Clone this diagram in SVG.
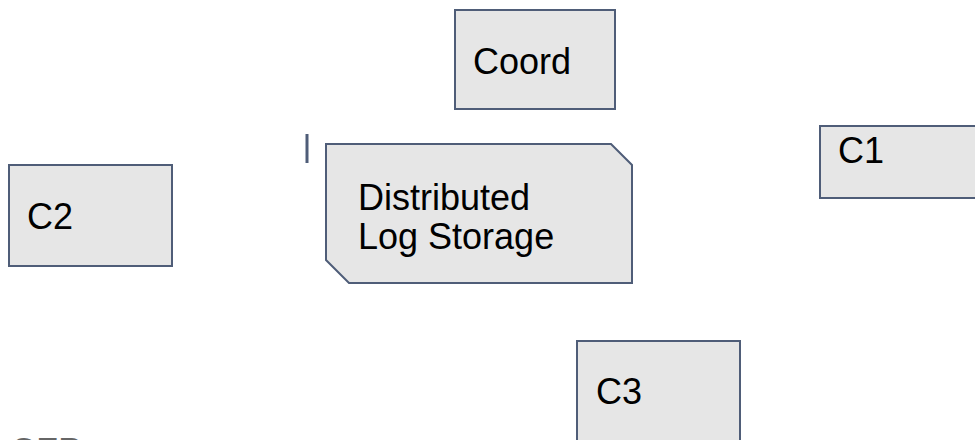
<svg xmlns="http://www.w3.org/2000/svg" width="975" height="440" viewBox="0 0 975 440">
<style>
.box{fill:#e6e6e6;stroke:#4f5d78;stroke-width:2}
.lbl{font-family:"Liberation Sans",Arial,sans-serif;font-size:36px;fill:#000}
</style>
<rect width="975" height="440" fill="#fff"/>
<g id="coord"><rect class="box" x="455" y="10" width="160" height="99"/><text class="lbl" x="473" y="74">Coord</text></g>
<g id="storage"><polygon class="box" points="326,144 611,144 632,165 632,283 349,283 326,260"/><text class="lbl" x="358" y="210">Distributed</text><text class="lbl" x="358" y="249">Log Storage</text></g>
<g id="c1"><rect class="box" x="820" y="126" width="170" height="72"/><text class="lbl" x="838" y="163">C1</text></g>
<g id="c2"><rect class="box" x="9" y="165" width="163" height="101"/><text class="lbl" x="27" y="229">C2</text></g>
<g id="c3"><rect class="box" x="577" y="341" width="163" height="120"/><text class="lbl" x="596" y="404">C3</text></g>
<g id="connectors"><line x1="307" y1="134" x2="307" y2="163" stroke="#4f5d78" stroke-width="3"/></g>
<text x="10" y="464" style="font-family:'Liberation Sans',Arial,sans-serif;font-size:36px;fill:#666">CFP</text>
</svg>
